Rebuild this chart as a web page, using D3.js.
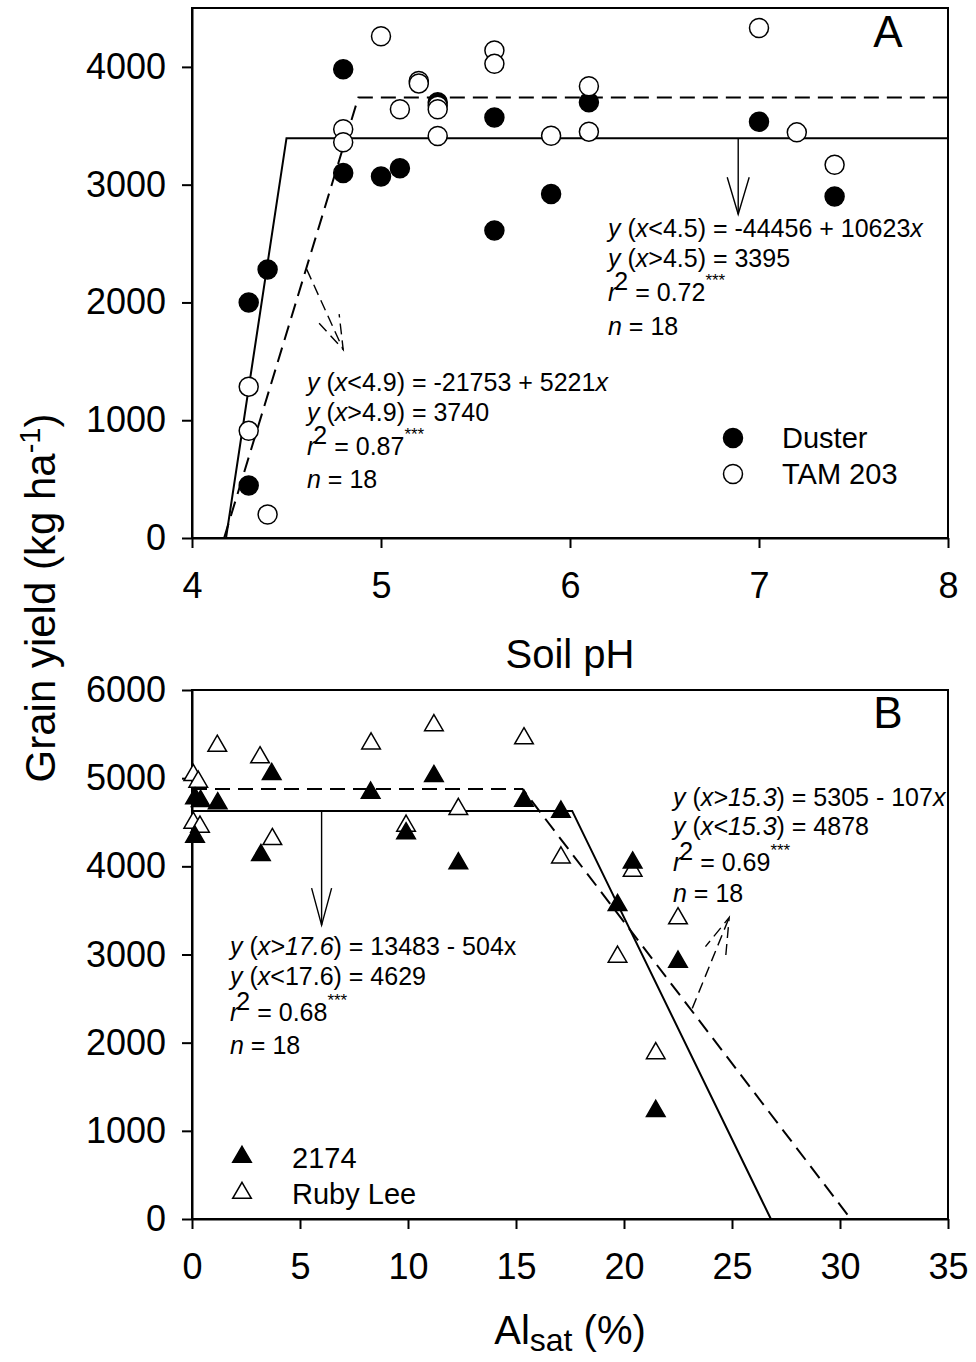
<!DOCTYPE html>
<html>
<head>
<meta charset="utf-8">
<script src="https://cdn.jsdelivr.net/npm/d3@7"></script>
<style>
body{margin:0;background:#fff;}
svg{font-family:"Liberation Sans",Arial,sans-serif;}
.axis path,.axis line{stroke:#000;stroke-width:2;}
.axis text{font-size:36px;fill:#000;font-family:"Liberation Sans",Arial,sans-serif;}
.frame{fill:none;stroke:#000;stroke-width:2;}
.fit{fill:none;stroke:#000;stroke-width:2;}
.arrow{fill:none;stroke:#000;stroke-width:1.4;}
.note{font-size:25px;fill:#000;}
.legend{font-size:29px;fill:#000;}
.title{font-size:40px;fill:#000;}
</style>
</head>
<body>
<script>
//panel A: grain yield vs soil pH
var dusterPts = [[4.3,2000],[4.3,445],[4.4,2280],[4.8,3980],[4.8,3100],[5.0,3070],[5.1,3140],
	[5.3,3700],[5.6,3570],[5.6,2610],[5.9,2920],[6.1,3700],[7.0,3535],[7.4,2900]];
var tamPts = [[4.3,1285],[4.3,910],[4.4,200],[4.8,3470],[4.8,3360],[5.0,4260],[5.1,3640],
	[5.2,3880],[5.2,3860],[5.3,3670],[5.3,3640],[5.3,3413],[5.6,4140],[5.6,4026],[5.9,3415],
	[6.1,3836],[6.1,3450],[7.0,4330],[7.2,3444],[7.4,3169]];
var dusterFit = [[4.18,0],[4.5,3395],[8,3395]];
var tamFit = [[4.17,0],[4.88,3740],[8,3740]];
var phTicks = [4,5,6,7,8];
var yieldTicksA = [0,1000,2000,3000,4000];

//panel B: grain yield vs Al saturation
var rubyPts = [[0.06,5034],[0.29,4958],[0.06,4493],[0.37,4448],[1.17,5366],[3.15,5235],[3.72,4308],
	[8.29,5393],[9.91,4460],[11.2,5600],[12.33,4649],[15.37,5450],[17.08,4100],[19.7,2974],
	[20.4,3949],[21.47,1879],[22.5,3409]];
var w2174Pts = [[0.14,4770],[0.4,4740],[0.14,4335],[1.19,4713],[3.19,4127],[3.69,5045],[8.27,4834],
	[9.91,4373],[11.2,5023],[12.33,4033],[15.37,4743],[17.08,4618],[19.7,3560],[20.4,4042],
	[21.47,1224],[22.5,2917]];
var w2174Fit = [[0,4629],[17.6,4629],[26.8,0]];
var rubyFit = [[0,4878],[15.3,4878],[30.5,0]];
var alTicks = [0,5,10,15,20,25,30,35];
var yieldTicksB = [0,1000,2000,3000,4000,5000,6000];

//regression notes, each line is a list of [text, style] pieces
var noteDuster = [
	[["y","i"],[" ("],["x","i"],["<4.5) = -44456 + 10623"],["x","i"]],
	[["y","i"],[" ("],["x","i"],[">4.5) = 3395"]],
	[["r","i"],["2","sup"],[" = 0.72"],["***","star"]],
	[["n","i"],[" = 18"]]
];
var noteTam = [
	[["y","i"],[" ("],["x","i"],["<4.9) = -21753 + 5221"],["x","i"]],
	[["y","i"],[" ("],["x","i"],[">4.9) = 3740"]],
	[["r","i"],["2","sup"],[" = 0.87"],["***","star"]],
	[["n","i"],[" = 18"]]
];
var noteRuby = [
	[["y","i"],[" ("],["x>15.3","i"],[") = 5305 - 107"],["x","i"]],
	[["y","i"],[" ("],["x<15.3","i"],[") = 4878"]],
	[["r","i"],["2","sup"],[" = 0.69"],["***","star"]],
	[["n","i"],[" = 18"]]
];
var note2174 = [
	[["y","i"],[" ("],["x>17.6","i"],[") = 13483 - 504x"]],
	[["y","i"],[" ("],["x","i"],["<17.6) = 4629"]],
	[["r","i"],["2","sup"],[" = 0.68"],["***","star"]],
	[["n","i"],[" = 18"]]
];

var width = 976,
	height = 1362;

var svg = d3.select("body")
	.append("svg")
	.attr("width", width)
	.attr("height", height);

//scales for both panels
var xA = d3.scaleLinear().domain([4,8]).range([192,948]);
var yA = d3.scaleLinear().domain([0,4500]).range([538,8]);
var xB = d3.scaleLinear().domain([0,35]).range([192,948]);
var yB = d3.scaleLinear().domain([0,6000]).range([1219,690]);

function drawAxes(x, y, xTicks, yTicks){
	svg.append("rect")
		.attr("class","frame")
		.attr("x", x.range()[0])
		.attr("y", y.range()[1])
		.attr("width", x.range()[1] - x.range()[0])
		.attr("height", y.range()[0] - y.range()[1]);

	svg.append("g")
		.attr("class","axis")
		.attr("transform","translate(0," + y.range()[0] + ")")
		.call(d3.axisBottom(x).tickValues(xTicks).tickSize(10).tickSizeOuter(0).tickPadding(24).tickFormat(d3.format("d")));

	svg.append("g")
		.attr("class","axis")
		.attr("transform","translate(" + x.range()[0] + ",0)")
		.call(d3.axisLeft(y).tickValues(yTicks).tickSize(10).tickSizeOuter(0).tickPadding(16).tickFormat(d3.format("d")));
}

function drawFit(pts, x, y, dashed){
	var line = d3.line()
		.x(function(d){ return x(d[0]); })
		.y(function(d){ return y(d[1]); });
	svg.append("path")
		.datum(pts)
		.attr("class","fit")
		.attr("stroke-dasharray", dashed ? "15,8" : null)
		.attr("d", line);
}

function drawPoints(pts, x, y, type, size, filled){
	var sym = d3.symbol().type(type).size(size);
	svg.append("g").selectAll("path")
		.data(pts)
		.enter()
		.append("path")
		.attr("d", sym)
		.attr("transform", function(d){ return "translate(" + x(d[0]) + "," + y(d[1]) + ")"; })
		.attr("fill", filled ? "#000" : "#fff")
		.attr("stroke","#000")
		.attr("stroke-width",1.5);
}

//line with an open V head, coordinates in pixels
function drawArrow(x1, y1, x2, y2, dashed, len, half){
	var dx = x2 - x1, dy = y2 - y1,
		L = Math.sqrt(dx*dx + dy*dy),
		ux = dx/L, uy = dy/L,
		bx = x2 - ux*len, by = y2 - uy*len;
	var g = svg.append("g")
		.attr("class","arrow")
		.attr("stroke-dasharray", dashed ? "11,6" : null);
	g.append("line")
		.attr("x1",x1).attr("y1",y1)
		.attr("x2",x2).attr("y2",y2);
	g.append("path")
		.attr("d","M" + (bx - uy*half) + "," + (by + ux*half) + "L" + x2 + "," + y2 + "L" + (bx + uy*half) + "," + (by - ux*half));
}

function drawNote(lines, px, py, offsets){
	lines.forEach(function(parts, i){
		var t = svg.append("text")
			.attr("class","note")
			.attr("x", px)
			.attr("y", py + offsets[i]);
		var shift = 0;
		parts.forEach(function(p){
			var s = t.append("tspan").text(p[0]);
			var want = 0;
			if (p[1] == "i") s.style("font-style","italic");
			if (p[1] == "sup"){ want = -11; s.style("font-size","25px").attr("dx",-2); }
			if (p[1] == "star"){ want = -15; s.style("font-size","17px"); }
			if (want != shift) s.attr("dy", want - shift);
			shift = want;
		});
	});
}

//----- panel A -----
drawAxes(xA, yA, phTicks, yieldTicksA);
drawFit(dusterFit, xA, yA, false);
drawFit(tamFit, xA, yA, true);
drawPoints(dusterPts, xA, yA, d3.symbolCircle, Math.PI*9.5*9.5, true);
drawPoints(tamPts, xA, yA, d3.symbolCircle, Math.PI*9.5*9.5, false);

drawArrow(xA(6.89), yA(3395), xA(6.89), yA(2749), false, 37, 11);
drawArrow(xA(4.607), yA(2281), xA(4.80), yA(1600), true, 34, 11);

drawNote(noteDuster, 608, 237, [0,30,64,98]);
drawNote(noteTam, 307, 391, [0,30,64,97]);

svg.append("text").attr("class","title").attr("x",888).attr("y",47)
	.attr("text-anchor","middle").style("font-size","44px").text("A");

//legend A
var legA = [["Duster",true],["TAM 203",false]];
legA.forEach(function(d, i){
	svg.append("circle")
		.attr("cx",733).attr("cy",438 + i*36).attr("r",9.5)
		.attr("fill", d[1] ? "#000" : "#fff")
		.attr("stroke","#000").attr("stroke-width",1.5);
	svg.append("text").attr("class","legend")
		.attr("x",782).attr("y",448 + i*36).text(d[0]);
});

svg.append("text").attr("class","title")
	.attr("x",570).attr("y",668)
	.attr("text-anchor","middle")
	.text("Soil pH");

//----- panel B -----
drawAxes(xB, yB, alTicks, yieldTicksB);
drawFit(w2174Fit, xB, yB, false);
drawFit(rubyFit, xB, yB, true);
drawPoints(rubyPts, xB, yB, d3.symbolTriangle, 150, false);
drawPoints(w2174Pts, xB, yB, d3.symbolTriangle, 150, true);

drawArrow(xB(6.0), yB(4629), xB(6.0), yB(3333), false, 37, 10);
drawArrow(xB(23.16), yB(2389), xB(24.87), yB(3420), true, 36, 11);

drawNote(noteRuby, 673, 806, [0,29,65,96]);
drawNote(note2174, 230, 955, [0,30,66,99]);

svg.append("text").attr("class","title").attr("x",888).attr("y",728)
	.attr("text-anchor","middle").style("font-size","44px").text("B");

//legend B
var legB = [["2174",true],["Ruby Lee",false]];
legB.forEach(function(d, i){
	svg.append("path")
		.attr("d", d3.symbol().type(d3.symbolTriangle).size(150))
		.attr("transform","translate(242," + (1157 + i*36) + ")")
		.attr("fill", d[1] ? "#000" : "#fff")
		.attr("stroke","#000").attr("stroke-width",1.5);
	svg.append("text").attr("class","legend")
		.attr("x",292).attr("y",1168 + i*36).text(d[0]);
});

var alTitle = svg.append("text").attr("class","title")
	.attr("x",570).attr("y",1344)
	.attr("text-anchor","middle");
alTitle.append("tspan").text("Al");
alTitle.append("tspan").attr("dy",7).style("font-size","32px").text("sat");
alTitle.append("tspan").attr("dy",-7).text(" (%)");

//shared y title
var yTitle = svg.append("text").attr("class","title")
	.attr("transform","translate(55,598) rotate(-90)")
	.attr("text-anchor","middle")
	.style("font-size","42px");
yTitle.append("tspan").text("Grain yield (kg ha");
yTitle.append("tspan").attr("dy",-15).style("font-size","29px").text("-1");
yTitle.append("tspan").attr("dy",15).text(")");
</script>
</body>
</html>
